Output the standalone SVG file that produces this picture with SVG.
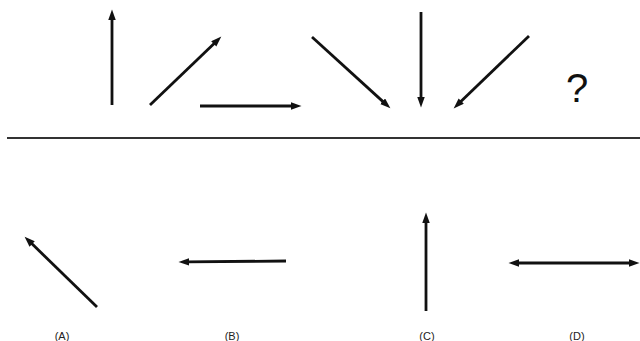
<svg xmlns="http://www.w3.org/2000/svg" width="640" height="341" viewBox="0 0 640 341">
  <defs>
    <marker id="ah" markerUnits="userSpaceOnUse" markerWidth="11" markerHeight="8" refX="2" refY="3.75" orient="auto-start-reverse">
      <path d="M0,0 L10.5,3.75 L0,7.5 z" fill="#111"/>
    </marker>
    <style>
      .arr { stroke: #111; stroke-width: 2.8; fill: none; marker-end: url(#ah); }
      .dbl { stroke: #111; stroke-width: 2.8; fill: none; marker-start: url(#ah); marker-end: url(#ah); }
      .lbl { font-family: "Liberation Sans", Arial, sans-serif; font-size: 11px; fill: #222; text-anchor: middle; }
      .q { font-family: "Liberation Sans", Arial, sans-serif; font-size: 40px; fill: #111; text-anchor: middle; }
    </style>
  </defs>
  <rect width="640" height="341" fill="#fff"/>
  <g id="sequence">
    <g id="s1"><line class="arr" x1="112" y1="105" x2="112" y2="18"/></g>
    <g id="s2"><line class="arr" x1="150" y1="105" x2="215.2" y2="42.5"/></g>
    <g id="s3"><line class="arr" x1="200" y1="106" x2="293" y2="106"/></g>
    <g id="s4"><line class="arr" x1="312" y1="37" x2="384.1" y2="102.6"/></g>
    <g id="s5"><line class="arr" x1="421" y1="12" x2="421" y2="99"/></g>
    <g id="s6"><line class="arr" x1="529" y1="36" x2="459.8" y2="102.5"/></g>
    <g id="q"><text class="q" x="577" y="102">?</text></g>
  </g>
  <g id="divider"><line x1="7" y1="138" x2="640" y2="138" stroke="#333" stroke-width="2"/></g>
  <g id="options">
    <g id="optA"><line class="arr" x1="97" y1="307" x2="30.7" y2="242.6"/><text class="lbl" x="62" y="340">(A)</text></g>
    <g id="optB"><line class="arr" x1="286" y1="261" x2="187" y2="261.9"/><text class="lbl" x="232" y="340">(B)</text></g>
    <g id="optC"><line class="arr" x1="426" y1="311" x2="426" y2="221"/><text class="lbl" x="427" y="340">(C)</text></g>
    <g id="optD"><line class="dbl" x1="517" y1="263" x2="631" y2="263"/><text class="lbl" x="577" y="340">(D)</text></g>
  </g>
</svg>
